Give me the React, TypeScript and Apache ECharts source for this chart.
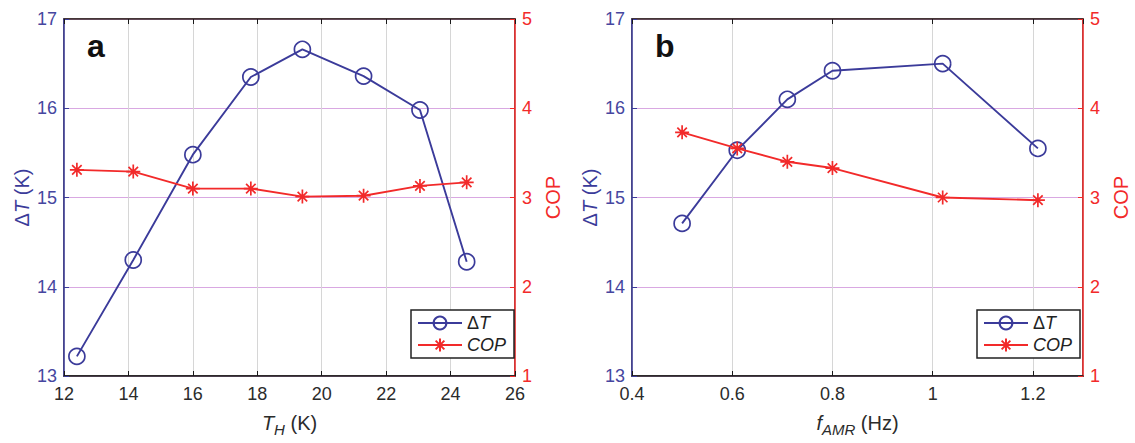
import React, { useEffect, useRef } from "react";
import * as echarts from "echarts";

// Panel a: T_H sweep
const thA = [12.4, 14.15, 16, 17.8, 19.4, 21.3, 23.05, 24.5];
const dTA = [13.22, 14.3, 15.48, 16.35, 16.66, 16.36, 15.98, 14.28];
const copA = [3.31, 3.29, 3.1, 3.1, 3.01, 3.02, 3.13, 3.17];

// Panel b: frequency sweep
const fB = [0.5, 0.61, 0.71, 0.8, 1.02, 1.21];
const dTB = [14.71, 15.53, 16.1, 16.42, 16.5, 15.55];
const copB = [3.73, 3.55, 3.4, 3.33, 3.0, 2.97];

const panelLabels = ["a", "b"];

const BLUE = "#3b3b9a";
const RED = "#f22a2a";
const FONT = "Liberation Sans, Arial, sans-serif";
const STAR = "path://M5,0L5,10M0,5L10,5M1.6,1.6L8.4,8.4M1.6,8.4L8.4,1.6";

export default function App() {
  const ref = useRef<HTMLDivElement>(null);
  useEffect(() => {
    if (!ref.current) return;
    const chart = echarts.init(ref.current, undefined, { renderer: "svg" });

    const grids = [
      { left: 64, top: 19, width: 451, height: 357 },
      { left: 632, top: 19, width: 451, height: 357 },
    ];
    const xRanges = [
      { min: 12, max: 26, interval: 2 },
      { min: 0.4, max: 1.3, interval: 0.2 },
    ];
    const xNames = [
      "{i|T}{s|H}{n| (K)}",
      "{i|f}{s|AMR}{n| (Hz)}",
    ];
    const nameRich = {
      n: { fontSize: 20, fontFamily: FONT, color: "#2b2b2b" },
      i: { fontSize: 20, fontFamily: FONT, color: "#2b2b2b", fontStyle: "italic" },
      s: { fontSize: 15, fontFamily: FONT, color: "#2b2b2b", fontStyle: "italic", padding: [14, 0, 0, 0] },
    };

    const xAxis: any[] = [];
    const yAxis: any[] = [];
    grids.forEach((_, g) => {
      xAxis.push({
        type: "value",
        gridIndex: g,
        ...xRanges[g],
        position: "bottom",
        name: xNames[g],
        nameLocation: "middle",
        nameGap: 32,
        nameTextStyle: { rich: nameRich },
        axisLine: { show: true, onZero: false, lineStyle: { color: "#1a1a1a", width: 1.5 } },
        axisTick: { show: true, inside: true, length: 5, lineStyle: { color: "#1a1a1a" } },
        axisLabel: { fontSize: 18, fontFamily: FONT, color: "#2b2b2b", margin: 9, showMaxLabel: g === 0 },
        splitLine: { show: true, lineStyle: { color: "#d6d6d6", width: 1 } },
      });
      xAxis.push({
        type: "value",
        gridIndex: g,
        ...xRanges[g],
        position: "top",
        axisLine: { show: true, onZero: false, lineStyle: { color: "#3a2a2a", width: 1.5 } },
        axisTick: { show: true, inside: true, length: 5, lineStyle: { color: "#1a1a1a" } },
        axisLabel: { show: false },
        splitLine: { show: false },
      });
      yAxis.push({
        type: "value",
        gridIndex: g,
        min: 13,
        max: 17,
        interval: 1,
        position: "left",
        name: "{n|Δ}{i|T}{n| (K)}",
        nameLocation: "middle",
        nameGap: 32,
        nameTextStyle: {
          rich: {
            n: { fontSize: 20, fontFamily: FONT, color: BLUE },
            i: { fontSize: 20, fontFamily: FONT, color: BLUE, fontStyle: "italic" },
          },
        },
        axisLine: { show: true, onZero: false, lineStyle: { color: BLUE, width: 1.5 } },
        axisTick: { show: true, inside: true, length: 5, lineStyle: { color: BLUE } },
        axisLabel: { fontSize: 18, fontFamily: FONT, color: "#4646a0", margin: 7 },
        splitLine: { show: true, lineStyle: { color: "#d9a8e2", width: 1 } },
      });
      yAxis.push({
        type: "value",
        gridIndex: g,
        min: 1,
        max: 5,
        interval: 1,
        position: "right",
        name: "COP",
        nameLocation: "middle",
        nameGap: 28,
        nameRotate: 90,
        nameTextStyle: { fontSize: 20, fontFamily: FONT, color: RED },
        axisLine: { show: true, onZero: false, lineStyle: { color: RED, width: 1.5 } },
        axisTick: { show: true, inside: true, length: 5, lineStyle: { color: RED } },
        axisLabel: { fontSize: 18, fontFamily: FONT, color: RED, margin: 7 },
        splitLine: { show: false },
      });
    });

    const dtSeries = (g: number, xs: number[], ys: number[]) => ({
      name: "ΔT",
      type: "line",
      xAxisIndex: g * 2,
      yAxisIndex: g * 2,
      data: xs.map((x, i) => [x, ys[i]]),
      symbol: "circle",
      symbolSize: 16,
      lineStyle: { color: BLUE, width: 1.9 },
      itemStyle: { color: "rgba(255,255,255,0)", borderColor: BLUE, borderWidth: 1.7 },
      z: 3,
    });
    const copSeries = (g: number, xs: number[], ys: number[]) => ({
      name: "COP",
      type: "line",
      xAxisIndex: g * 2,
      yAxisIndex: g * 2 + 1,
      data: xs.map((x, i) => [x, ys[i]]),
      symbol: STAR,
      symbolSize: 14,
      lineStyle: { color: RED, width: 1.9 },
      itemStyle: { color: RED, borderColor: RED, borderWidth: 1.7 },
      z: 4,
    });

    const legendRich = {
      n: { fontSize: 18, fontFamily: FONT, color: "#222" },
      i: { fontSize: 18, fontFamily: FONT, color: "#222", fontStyle: "italic" },
    };
    const legendAt = (left: number) => ({
      left,
      top: 310,
      orient: "vertical",
      data: ["ΔT", "COP"],
      backgroundColor: "#fff",
      borderColor: "#222",
      borderWidth: 1.5,
      borderRadius: 0,
      padding: [4, 8, 4, 6],
      itemWidth: 44,
      itemHeight: 16,
      itemGap: 4,
      selectedMode: false,
      formatter: (name: string) => (name === "ΔT" ? "{n|Δ}{i|T}" : "{i|COP}"),
      textStyle: { rich: legendRich },
    });

    chart.setOption({
      animation: false,
      backgroundColor: "#fff",
      grid: grids.map((g) => ({ ...g, show: true, borderColor: "#3a2a2a", borderWidth: 1.5, backgroundColor: "transparent" })),
      xAxis,
      yAxis,
      legend: [legendAt(411), legendAt(977)],
      graphic: panelLabels.map((t, g) => ({
        type: "text",
        left: grids[g].left + 23,
        top: 30,
        style: { text: t, font: `bold 32px ${FONT}`, fill: "#111" },
        z: 10,
      })),
      series: [
        dtSeries(0, thA, dTA),
        copSeries(0, thA, copA),
        dtSeries(1, fB, dTB),
        copSeries(1, fB, copB),
      ],
    });
    return () => chart.dispose();
  }, []);
  return (
    <div
      ref={ref}
      style={{ position: "absolute", left: 0, top: 0, width: 1135, height: 443 }}
    />
  );
}
